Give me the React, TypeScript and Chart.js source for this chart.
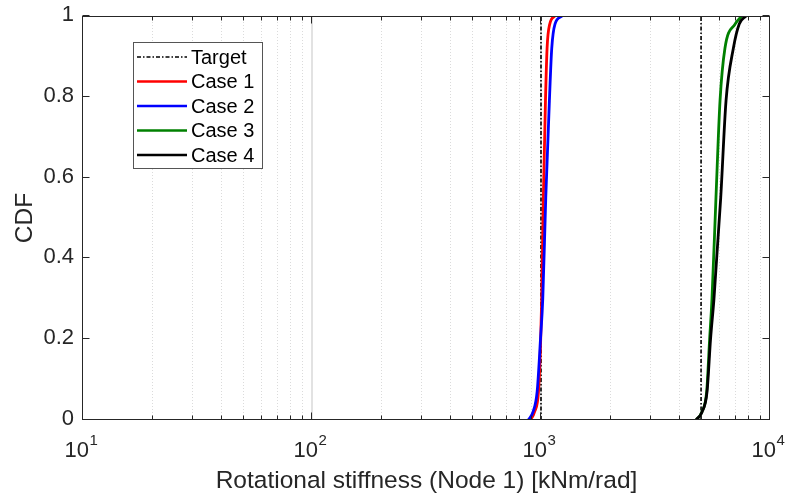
import React, { useEffect, useRef } from "react";
import { Chart, registerables } from "chart.js";

Chart.register(...registerables);

// CDF levels at which the stiffness values were read
const cdfLevels = [0, 0.02, 0.07, 0.2, 0.3, 0.55, 0.79, 0.92, 0.98, 1];

// Rotational stiffness values (kNm/rad) for each case
const case1 = [900, 937, 975, 997, 1007, 1024, 1046, 1063, 1092, 1151];
const case2 = [880, 923, 962, 995, 1018, 1049, 1088, 1114, 1151, 1236];
const case3 = [4750, 5040, 5290, 5450, 5580, 5808, 6050, 6357, 7037, 7523];
const case4 = [4750, 5050, 5310, 5500, 5693, 6092, 6426, 6918, 7340, 7852];

// Target stiffness values
const targetValues = [1000, 5000];
const targetCdf = [0, 1];

const xMajorTicks = [10, 100, 1000, 10000];
const xTickExponents = ["1", "2", "3", "4"];
const yTicks = [0, 0.2, 0.4, 0.6, 0.8, 1];
const yTickLabels = ["0", "0.2", "0.4", "0.6", "0.8", "1"];

const seriesLabels = ["Target", "Case 1", "Case 2", "Case 3", "Case 4"];
const seriesColors = ["#000000", "#ff0000", "#0000ff", "#008000", "#000000"];

const xTitle = "Rotational stiffness (Node 1) [kNm/rad]";
const yTitle = "CDF";

const FONT = "'Liberation Sans', Arial, Helvetica, sans-serif";
const TEXT = "#262626";
const TARGET_DASH = [4, 2, 1.5, 2];

const toPoints = (xs: number[], ys: number[]) => xs.map((v, i) => ({ x: v, y: ys[i] }));

const matlabPlugin = {
  id: "matlabAxes",
  beforeDatasetsDraw(chart: any) {
    const { ctx, chartArea: a, scales } = chart;
    const x = scales.x;
    ctx.save();
    // minor grid (dotted)
    ctx.strokeStyle = "rgba(0,0,0,0.14)";
    ctx.lineWidth = 1;
    ctx.setLineDash([1, 2]);
    for (let d = 0; d < xMajorTicks.length - 1; d++) {
      for (let m = 2; m <= 9; m++) {
        const px = Math.round(x.getPixelForValue(xMajorTicks[d] * m)) + 0.5;
        ctx.beginPath();
        ctx.moveTo(px, a.top);
        ctx.lineTo(px, a.bottom);
        ctx.stroke();
      }
    }
    // major grid (solid)
    ctx.setLineDash([]);
    ctx.strokeStyle = "#d9d9d9";
    ctx.lineWidth = 1.5;
    for (let i = 1; i < xMajorTicks.length - 1; i++) {
      const px = x.getPixelForValue(xMajorTicks[i]);
      ctx.beginPath();
      ctx.moveTo(px, a.top);
      ctx.lineTo(px, a.bottom);
      ctx.stroke();
    }
    ctx.restore();
  },
  afterDatasetsDraw(chart: any) {
    const { ctx, chartArea: a, scales } = chart;
    const x = scales.x;
    const y = scales.y;
    ctx.save();
    const L = Math.round(a.left) - 0.5;
    const R = Math.round(a.right) - 0.5;
    const T = Math.round(a.top) + 0.5;
    const B = Math.round(a.bottom) - 0.5;
    ctx.strokeStyle = TEXT;
    ctx.lineWidth = 1;
    ctx.setLineDash([]);
    ctx.strokeRect(L, T, R - L, B - T);

    // x ticks (inside, bottom & top)
    ctx.beginPath();
    for (let d = 0; d < xMajorTicks.length; d++) {
      const px = Math.round(x.getPixelForValue(xMajorTicks[d])) - 0.5;
      ctx.moveTo(px, B);
      ctx.lineTo(px, B - 7);
      ctx.moveTo(px, T);
      ctx.lineTo(px, T + 7);
      if (d < xMajorTicks.length - 1) {
        for (let m = 2; m <= 9; m++) {
          const mx = Math.round(x.getPixelForValue(xMajorTicks[d] * m)) + 0.5;
          ctx.moveTo(mx, B);
          ctx.lineTo(mx, B - 4);
          ctx.moveTo(mx, T);
          ctx.lineTo(mx, T + 4);
        }
      }
    }
    // y ticks (inside, left & right)
    yTicks.forEach((v) => {
      const py = Math.round(y.getPixelForValue(v)) - 0.5;
      ctx.moveTo(L, py);
      ctx.lineTo(L + 7, py);
      ctx.moveTo(R, py);
      ctx.lineTo(R - 7, py);
    });
    ctx.stroke();

    // y tick labels
    ctx.fillStyle = TEXT;
    ctx.font = `22px ${FONT}`;
    ctx.textAlign = "right";
    ctx.textBaseline = "middle";
    yTicks.forEach((v, i) => {
      ctx.fillText(yTickLabels[i], a.left - 9, y.getPixelForValue(v) - 1);
    });

    // x tick labels with superscript
    ctx.textBaseline = "alphabetic";
    xMajorTicks.forEach((v, i) => {
      const px = x.getPixelForValue(v);
      ctx.font = `22px ${FONT}`;
      ctx.textAlign = "right";
      ctx.fillText("10", px + 6, a.bottom + 37);
      ctx.font = `15px ${FONT}`;
      ctx.textAlign = "left";
      ctx.fillText(xTickExponents[i], px + 6.5, a.bottom + 25);
    });

    // axis titles
    ctx.font = `24.5px ${FONT}`;
    ctx.textAlign = "center";
    ctx.textBaseline = "alphabetic";
    ctx.fillText(xTitle, (a.left + a.right) / 2, a.bottom + 68);
    ctx.save();
    ctx.translate(32, (a.top + a.bottom) / 2);
    ctx.rotate(-Math.PI / 2);
    ctx.fillText(yTitle, 0, 0);
    ctx.restore();

    // legend
    const bx = 133.5, by = 42.5, bw = 129, bh = 126;
    ctx.fillStyle = "#ffffff";
    ctx.fillRect(bx, by, bw, bh);
    ctx.strokeStyle = "#555555";
    ctx.lineWidth = 1;
    ctx.strokeRect(bx, by, bw, bh);
    ctx.font = `20px ${FONT}`;
    ctx.textAlign = "left";
    ctx.textBaseline = "middle";
    seriesLabels.forEach((lab, i) => {
      const cy = 57 + i * 24.5;
      ctx.beginPath();
      ctx.strokeStyle = seriesColors[i];
      if (i === 0) {
        ctx.lineWidth = 1.3;
        ctx.setLineDash(TARGET_DASH);
      } else {
        ctx.lineWidth = 2.6;
        ctx.setLineDash([]);
      }
      ctx.moveTo(137, cy);
      ctx.lineTo(187, cy);
      ctx.stroke();
      ctx.setLineDash([]);
      ctx.fillStyle = "#000000";
      ctx.fillText(lab, 191, cy + 1);
    });
    ctx.restore();
  },
};

export default function App() {
  const ref = useRef<HTMLCanvasElement | null>(null);
  useEffect(() => {
    if (!ref.current) return;
    const caseSets = [case1, case2, case3, case4].map((vals, i) => ({
      label: seriesLabels[i + 1],
      data: toPoints(vals, cdfLevels),
      borderColor: seriesColors[i + 1],
      backgroundColor: seriesColors[i + 1],
      borderWidth: 2.8,
      pointRadius: 0,
      cubicInterpolationMode: "monotone" as const,
      fill: false,
      order: 4 - i,
    }));
    const targetSets = targetValues.map((v) => ({
      label: seriesLabels[0],
      data: toPoints([v, v], targetCdf),
      borderColor: seriesColors[0],
      borderWidth: 1.6,
      borderDash: TARGET_DASH,
      pointRadius: 0,
      fill: false,
      order: 10,
    }));
    const chart = new Chart(ref.current, {
      type: "line",
      data: { datasets: [...targetSets, ...caseSets] as any },
      options: {
        animation: false,
        responsive: false,
        devicePixelRatio: 1,
        parsing: true,
        layout: { padding: { left: 83, right: 18, top: 16, bottom: 78 } },
        plugins: { legend: { display: false }, tooltip: { enabled: false } },
        scales: {
          x: { type: "logarithmic", min: 10, max: 10000, display: false },
          y: { type: "linear", min: 0, max: 1, display: false },
        },
      } as any,
      plugins: [matlabPlugin],
    });
    return () => chart.destroy();
  }, []);
  return (
    <div style={{ position: "fixed", left: 0, top: 0, width: 788, height: 498, background: "#fff" }}>
      <canvas ref={ref} width={788} height={498} style={{ width: 788, height: 498 }} />
    </div>
  );
}
